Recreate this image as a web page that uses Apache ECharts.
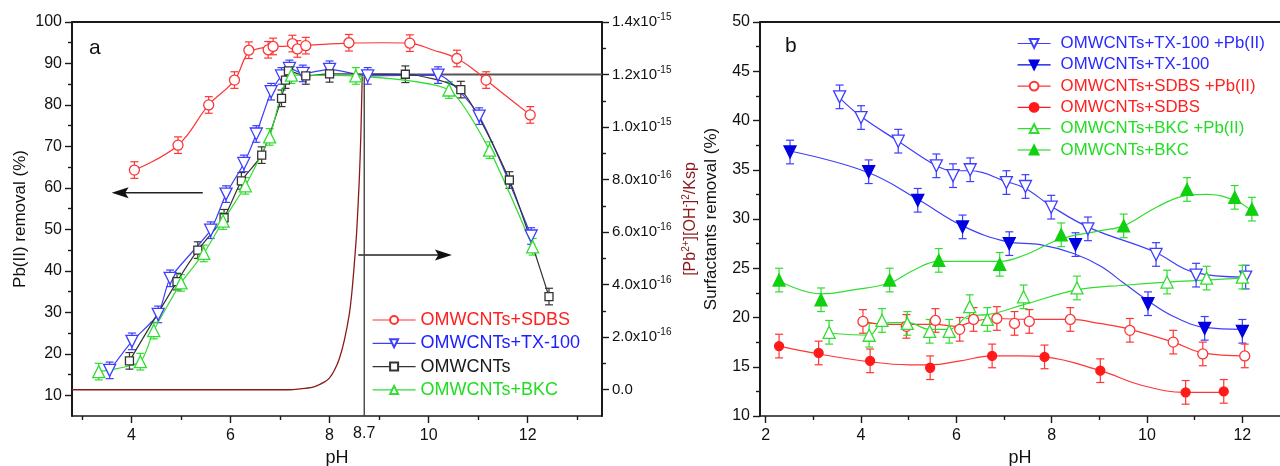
<!DOCTYPE html>
<html>
<head>
<meta charset="utf-8">
<script src="https://cdn.jsdelivr.net/npm/echarts@6/dist/echarts.min.js"></script>
<style>
html,body{margin:0;padding:0;background:#fff}
#chart{width:1280px;height:466px}
</style>
</head>
<body>
<div id="chart"></div>
<script>
// ---------- Panel a: Pb(II) removal (%) versus pH ----------
const sdbsA = [[4.06,64.3],[4.94,70.3],[5.56,80.0],[6.08,86.0],[6.37,93.2],[6.76,93.3],[6.86,94.1],[7.25,94.8],[7.35,93.5],[7.52,94.3],[8.39,95.0],[9.62,94.9],[10.57,91.2],[11.16,86.0],[12.05,77.6]];
const sdbsFitA = [[4.06,64.3],[4.94,70.3],[5.56,80.0],[6.08,86.0],[6.32,92.0],[6.45,93.2],[6.72,93.9],[7.13,94.2],[7.53,94.4],[8.41,94.9],[9.08,95.0],[9.6,94.9],[10.1,93.2],[10.57,91.2],[10.97,88.0],[11.16,86.0],[12.05,77.6]];
const txA = [[3.56,16.0],[4.01,23.0],[4.54,29.5],[4.78,38.2],[5.6,49.8],[5.91,58.5],[6.27,65.9],[6.52,73.0],[6.82,83.2],[7.03,87.0],[7.19,88.8],[7.46,87.6],[8.0,88.6],[8.77,87.0],[10.19,87.2],[11.02,77.3],[12.07,48.4]];
const bareA = [[3.96,18.3],[4.92,37.4],[5.34,45.0],[5.87,52.8],[6.22,61.7],[6.63,67.9],[7.03,81.6],[7.11,86.0],[7.17,88.2],[7.52,87.0],[8.0,87.5],[9.53,87.4],[10.65,83.7],[11.63,61.9],[12.43,33.8]];
const bkcA = [[3.34,15.7],[4.18,18.1],[4.45,25.6],[5.0,37.1],[5.46,44.2],[5.85,52.0],[6.3,60.5],[6.79,72.3],[7.23,87.2],[8.53,87.0],[10.41,83.6],[11.23,69.1],[12.1,45.8]];
const errA = 2.0;

// [Pb2+][OH-]^2/Ksp, in units of 1e-16
const kspRatio = [[2.8,0],[7.2,0],[7.5,0.05],[7.7,0.12],[7.9,0.3],[8.0,0.45],[8.1,0.75],[8.2,1.2],[8.3,1.9],[8.4,2.9],[8.45,3.7],[8.5,4.8],[8.55,6.1],[8.6,8.0],[8.63,9.6],[8.66,12.0]];
const refPH = 8.7;
const refRatio = 12;

const xTicksA = [4,6,8,10,12];
const xLabelsA = [4,6,8,8.7,10,12];
const xMinorA = [3,5,7,9,11,13];
const yTicksA = [10,20,30,40,50,60,70,80,90,100];
const yMinorA = [15,25,35,45,55,65,75,85,95];
const rTicks = [0,2,4,6,8,10,12,14];
const rLabels = ['0.0','2.0x10{sup|-16}','4.0x10{sup|-16}','6.0x10{sup|-16}','8.0x10{sup|-16}','1.0x10{sup|-15}','1.2x10{sup|-15}','1.4x10{sup|-15}'];
const rMinor = [1,3,5,7,9,11,13];

// arrows pointing each curve family to its axis
const arrowLeft = [[5.44,58.8],[3.6,58.8]];
const arrowRight = [[8.58,43.8],[10.47,43.8]];

// ---------- Panel b: surfactant removal (%) versus pH ----------
const txPbB = [[3.55,42.4],[4.0,40.3],[4.78,37.9],[5.58,35.4],[5.93,34.4],[6.29,35.0],[7.05,33.7],[7.45,33.3],[7.99,31.2],[8.76,29.0],[10.19,26.4],[11.03,24.3],[12.07,24.1]];
const txPbFit = [[3.55,42.3],[4.0,40.4],[4.78,37.9],[5.58,35.4],[5.93,34.9],[6.29,34.9],[7.05,33.8],[7.45,33.1],[7.99,31.3],[8.8,29.1],[10.14,26.7],[10.98,24.6],[12.03,24.1]];
const txB = [[2.51,36.8],[4.16,34.8],[5.19,31.9],[6.13,29.2],[7.11,27.5],[8.5,27.4],[10.02,21.4],[11.21,18.9],[12.0,18.6]];
const txFit = [[2.51,36.9],[4.16,34.7],[5.19,32.0],[6.13,29.3],[7.06,27.7],[7.76,27.4],[8.46,26.5],[9.03,25.2],[9.51,23.5],[10.02,21.7],[10.56,20.1],[11.21,19.0],[12.0,18.8]];
const sdbsPbB = [[4.04,19.6],[4.95,19.1],[5.56,19.7],[6.07,18.8],[6.36,19.8],[6.85,19.9],[7.22,19.4],[7.53,19.6],[8.39,19.8],[9.64,18.7],[10.55,17.5],[11.17,16.3],[12.05,16.1]];
const sdbsPbFit = [[4.04,19.6],[4.5,19.3],[5.0,19.3],[5.56,19.3],[6.0,19.1],[6.36,19.6],[6.85,19.9],[7.5,19.8],[8.39,19.8],[9.0,19.4],[9.64,18.8],[10.55,17.5],[11.17,16.4],[12.05,16.1]];
const sdbsB = [[2.28,17.1],[3.11,16.4],[4.19,15.6],[5.45,14.9],[6.75,16.1],[7.85,16.0],[9.02,14.6],[10.81,12.4],[11.61,12.5]];
const sdbsFitB = [[2.28,17.1],[3.11,16.3],[4.19,15.5],[5.0,15.2],[5.45,15.2],[6.08,15.6],[6.75,16.1],[7.3,16.1],[7.85,16.0],[9.02,14.6],[9.9,13.1],[10.81,12.4],[11.61,12.4]];
const bkcPbB = [[3.33,18.5],[4.17,18.2],[4.44,19.7],[4.97,19.4],[5.44,18.6],[5.85,18.6],[6.28,21.1],[6.65,19.8],[7.41,22.1],[8.53,23.0],[10.42,23.6],[11.25,24.0],[12.0,24.1]];
const bkcPbFit = [[3.33,18.4],[4.17,18.2],[4.44,19.4],[4.97,19.5],[5.44,18.8],[5.85,18.8],[6.28,20.2],[6.65,20.3],[7.41,21.3],[8.53,22.8],[9.6,23.3],[10.42,23.6],[11.25,23.8],[12.0,24.0]];
const bkcB = [[2.28,23.8],[3.16,21.8],[4.6,23.8],[5.63,25.8],[6.91,25.4],[8.2,28.4],[9.51,29.3],[10.84,33.0],[11.84,32.2],[12.2,31.0]];
const bkcFit = [[2.28,23.7],[3.16,22.4],[3.84,22.8],[4.6,23.5],[5.1,24.8],[5.63,25.7],[6.5,25.7],[6.91,25.7],[7.41,26.3],[8.2,28.0],[9.0,28.8],[9.51,29.3],[10.2,31.2],[10.84,32.4],[11.26,32.5],[11.84,31.9],[12.2,30.8]];
const errB = 1.2;

const xTicksB = [2,4,6,8,10,12];
const xMinorB = [3,5,7,9,11,13];

// ---------- styling ----------
const FONT = 'Liberation Sans, Arial, sans-serif';
const RED = '#ff3535', BLUE = '#3d3dff', DBLUE = '#0000e0', GREEN = '#30dd30', BLACK = '#333333', KSP = '#8b1a1a';
const AXIS = '#1a1a1a';

const chart = echarts.init(document.getElementById('chart'), null, {renderer: 'canvas'});

function errorBars(pts, err, color, xi, yi, cap) {
  return {
    type: 'custom', xAxisIndex: xi, yAxisIndex: yi, silent: true, z: 2,
    data: pts.map(p => [p[0], p[1] - err, p[1] + err]),
    encode: {x: 0, y: [1, 2]},
    renderItem(params, api) {
      const x = api.value(0);
      const lo = api.coord([x, api.value(1)]);
      const hi = api.coord([x, api.value(2)]);
      const h = cap / 2;
      const st = {stroke: color, lineWidth: 1.2, fill: null};
      return {type: 'group', children: [
        {type: 'line', shape: {x1: lo[0], y1: lo[1], x2: hi[0], y2: hi[1]}, style: st},
        {type: 'line', shape: {x1: lo[0] - h, y1: lo[1], x2: lo[0] + h, y2: lo[1]}, style: st},
        {type: 'line', shape: {x1: hi[0] - h, y1: hi[1], x2: hi[0] + h, y2: hi[1]}, style: st}
      ]};
    }
  };
}

function pointSeries(name, pts, o) {
  return {
    type: 'line', name, data: pts, xAxisIndex: o.xi, yAxisIndex: o.yi,
    smooth: o.smooth || 0, showSymbol: true, symbol: o.symbol, symbolSize: o.size,
    symbolRotate: o.rotate || 0,
    itemStyle: {color: o.fill, borderColor: o.color, borderWidth: 1.3},
    lineStyle: {color: o.color, width: o.line ? 1.2 : 0, opacity: o.line ? 1 : 0},
    z: 4, silent: true
  };
}

function curveSeries(pts, color, xi, yi, width, smooth) {
  return {
    type: 'line', data: pts, xAxisIndex: xi, yAxisIndex: yi, smooth: smooth,
    showSymbol: false, symbol: 'none',
    lineStyle: {color, width: width}, z: 3, silent: true
  };
}

const tickLabel = {fontFamily: FONT, fontSize: 16, color: '#111'};
const line = w => ({show: true, onZero: false, lineStyle: {color: AXIS, width: w}});
const noLine = {show: false, onZero: false};

const xAxis = [
  // panel a
  {gridIndex: 0, type: 'value', min: 2.8, max: 13.5, position: 'bottom',
   axisLine: line(1.6), axisTick: {show: true, length: 7, customValues: xTicksA, lineStyle: {color: AXIS, width: 1.4}},
   axisLabel: Object.assign({margin: 12, customValues: xLabelsA,
     formatter: v => v === 8.7 ? '{hi|8.7}' : String(v),
     rich: {hi: {fontFamily: FONT, fontSize: 16, color: '#111', lineHeight: 11}}}, tickLabel),
   splitLine: {show: false},
   name: 'pH', nameLocation: 'middle', nameGap: 29, nameTextStyle: {fontFamily: FONT, fontSize: 18, color: '#111'}},
  {gridIndex: 0, type: 'value', min: 2.8, max: 13.5, position: 'bottom',
   axisLine: noLine, axisLabel: {show: false}, splitLine: {show: false},
   axisTick: {show: true, length: 4, customValues: xMinorA, lineStyle: {color: AXIS, width: 1.4}}},
  {gridIndex: 0, type: 'value', min: 2.8, max: 13.5, position: 'top',
   axisLine: line(2), axisTick: {show: false}, axisLabel: {show: false}, splitLine: {show: false}},
  // panel b
  {gridIndex: 1, type: 'value', min: 1.88, max: 13, position: 'bottom',
   axisLine: line(1.6), axisTick: {show: true, length: 7, customValues: xTicksB, lineStyle: {color: AXIS, width: 1.4}},
   axisLabel: Object.assign({margin: 12, customValues: xTicksB}, tickLabel),
   splitLine: {show: false},
   name: 'pH', nameLocation: 'middle', nameGap: 29, nameTextStyle: {fontFamily: FONT, fontSize: 18, color: '#111', padding: [0, 10, 0, 0]}},
  {gridIndex: 1, type: 'value', min: 1.88, max: 13, position: 'bottom',
   axisLine: noLine, axisLabel: {show: false}, splitLine: {show: false},
   axisTick: {show: true, length: 4, customValues: xMinorB, lineStyle: {color: AXIS, width: 1.4}}},
  {gridIndex: 1, type: 'value', min: 1.88, max: 13, position: 'top',
   axisLine: line(2), axisTick: {show: false}, axisLabel: {show: false}, splitLine: {show: false}}
];

const yAxis = [
  // panel a, left: Pb(II) removal
  {gridIndex: 0, type: 'value', min: 5, max: 100, position: 'left',
   axisLine: line(2),
   axisTick: {show: true, length: 7, customValues: yTicksA, lineStyle: {color: AXIS, width: 1.4}},
   axisLabel: Object.assign({margin: 10, customValues: yTicksA}, tickLabel),
   splitLine: {show: false},
   name: 'Pb(II) removal (%)', nameLocation: 'middle', nameGap: 43,
   nameTextStyle: {fontFamily: FONT, fontSize: 17, color: '#111'}},
  {gridIndex: 0, type: 'value', min: 5, max: 100, position: 'left',
   axisLine: noLine, axisLabel: {show: false}, splitLine: {show: false},
   axisTick: {show: true, length: 4, customValues: yMinorA, lineStyle: {color: AXIS, width: 1.4}}},
  // panel a, right: [Pb2+][OH-]^2/Ksp
  {gridIndex: 0, type: 'value', min: -1, max: 14, position: 'right',
   axisLine: line(2),
   axisTick: {show: true, length: 7, customValues: rTicks, lineStyle: {color: AXIS, width: 1.4}},
   axisLabel: {margin: 10, customValues: rTicks, fontFamily: FONT, fontSize: 15, color: '#111',
     formatter: v => rLabels[rTicks.indexOf(v)],
     rich: {sup: {fontFamily: FONT, fontSize: 10, color: '#111', padding: [0, 0, 9, 0]}}},
   splitLine: {show: false},
   name: '[Pb{sup|2+}][OH{sup|-}]{sup|2}/Ksp', nameLocation: 'middle', nameGap: 79, nameRotate: 90,
   nameTextStyle: {fontFamily: FONT, fontSize: 16, color: KSP,
     rich: {sup: {fontFamily: FONT, fontSize: 10, color: KSP, padding: [0, 0, 9, 0]}}}},
  {gridIndex: 0, type: 'value', min: -1, max: 14, position: 'right',
   axisLine: noLine, axisLabel: {show: false}, splitLine: {show: false},
   axisTick: {show: true, length: 4, customValues: rMinor, lineStyle: {color: AXIS, width: 1.4}}},
  // panel b, left: surfactant removal
  {gridIndex: 1, type: 'value', min: 10, max: 50, interval: 5, position: 'left',
   axisLine: line(2),
   axisTick: {show: true, length: 7, lineStyle: {color: AXIS, width: 1.4}},
   minorTick: {show: true, splitNumber: 2, length: 4, lineStyle: {color: AXIS, width: 1.4}},
   axisLabel: Object.assign({margin: 10}, tickLabel),
   splitLine: {show: false}, minorSplitLine: {show: false},
   name: 'Surfactants removal (%)', nameLocation: 'middle', nameGap: 40,
   nameTextStyle: {fontFamily: FONT, fontSize: 17, color: '#111'}}
];

const series = [
  // reference lines at pH 8.7 and ratio 1.2e-15
  {type: 'line', data: [[refPH, -1], [refPH, refRatio]], xAxisIndex: 0, yAxisIndex: 2, showSymbol: false, symbol: 'none',
   lineStyle: {color: '#444', width: 1.4}, z: 1, silent: true},
  {type: 'line', data: [[refPH, refRatio], [13.5, refRatio]], xAxisIndex: 0, yAxisIndex: 2, showSymbol: false, symbol: 'none',
   lineStyle: {color: '#555', width: 2}, z: 1, silent: true},
  curveSeries(kspRatio, KSP, 0, 2, 1.3, 0.25),

  // panel a error bars
  errorBars(sdbsA, errA, RED, 0, 0, 8),
  errorBars(txA, errA, BLUE, 0, 0, 8),
  errorBars(bareA, errA, BLACK, 0, 0, 8),
  errorBars(bkcA, errA, GREEN, 0, 0, 8),
  // panel a curves and points
  curveSeries(sdbsFitA, RED, 0, 0, 1.2, 0.4),
  pointSeries('OMWCNTs+SDBS', sdbsA, {xi: 0, yi: 0, symbol: 'circle', size: 10, color: RED, fill: '#fff', line: false}),
  pointSeries('OMWCNTs+TX-100', txA, {xi: 0, yi: 0, symbol: 'triangle', rotate: 180, size: 12, color: BLUE, fill: '#fff', line: true, smooth: 0.2}),
  pointSeries('OMWCNTs', bareA, {xi: 0, yi: 0, symbol: 'rect', size: 8, color: BLACK, fill: '#fff', line: true, smooth: 0.2}),
  pointSeries('OMWCNTs+BKC', bkcA, {xi: 0, yi: 0, symbol: 'triangle', size: 12, color: GREEN, fill: '#fff', line: true, smooth: 0.2}),

  // panel b error bars
  errorBars(txPbB, errB, BLUE, 3, 4, 8),
  errorBars(txB, errB, BLUE, 3, 4, 8),
  errorBars(sdbsPbB, errB, RED, 3, 4, 8),
  errorBars(sdbsB, errB, RED, 3, 4, 8),
  errorBars(bkcPbB, errB, GREEN, 3, 4, 8),
  errorBars(bkcB, errB, GREEN, 3, 4, 8),
  // panel b fitted curves
  curveSeries(txPbFit, BLUE, 3, 4, 1.2, 0.4),
  curveSeries(txFit, BLUE, 3, 4, 1.2, 0.4),
  curveSeries(sdbsPbFit, RED, 3, 4, 1.2, 0.4),
  curveSeries(sdbsFitB, RED, 3, 4, 1.2, 0.4),
  curveSeries(bkcPbFit, GREEN, 3, 4, 1.2, 0.4),
  curveSeries(bkcFit, GREEN, 3, 4, 1.2, 0.4),
  // panel b points
  pointSeries('OMWCNTs+TX-100 +Pb(II)', txPbB, {xi: 3, yi: 4, symbol: 'triangle', rotate: 180, size: 12, color: BLUE, fill: '#fff'}),
  pointSeries('OMWCNTs+TX-100 ', txB, {xi: 3, yi: 4, symbol: 'triangle', rotate: 180, size: 12, color: DBLUE, fill: DBLUE}),
  pointSeries('OMWCNTs+SDBS +Pb(II)', sdbsPbB, {xi: 3, yi: 4, symbol: 'circle', size: 10, color: RED, fill: '#fff'}),
  pointSeries('OMWCNTs+SDBS ', sdbsB, {xi: 3, yi: 4, symbol: 'circle', size: 9, color: '#ff1a1a', fill: '#ff1a1a'}),
  pointSeries('OMWCNTs+BKC +Pb(II)', bkcPbB, {xi: 3, yi: 4, symbol: 'triangle', size: 12, color: GREEN, fill: '#fff'}),
  pointSeries('OMWCNTs+BKC ', bkcB, {xi: 3, yi: 4, symbol: 'triangle', size: 12, color: '#10d010', fill: '#10d010'})
];

const legendA = {
  orient: 'vertical', left: 372, top: 311, padding: 0, itemWidth: 43, itemHeight: 10, itemGap: 5.3,
  lineStyle: {width: 1.2, opacity: 1}, selectedMode: false,
  textStyle: {fontFamily: FONT, fontSize: 18, lineHeight: 18},
  data: [
    {name: 'OMWCNTs+SDBS', textStyle: {color: '#ff2020'}},
    {name: 'OMWCNTs+TX-100', textStyle: {color: '#2020ff'}},
    {name: 'OMWCNTs', textStyle: {color: '#1a1a1a'}},
    {name: 'OMWCNTs+BKC', textStyle: {color: '#22dd22'}}
  ]
};
const legendB = {
  orient: 'vertical', left: 1017, top: 35, padding: 0, itemWidth: 33, itemHeight: 11, itemGap: 4.3,
  lineStyle: {width: 1.2, opacity: 1}, selectedMode: false,
  textStyle: {fontFamily: FONT, fontSize: 16.8, lineHeight: 16.4, padding: [0, 0, 0, 5]},
  formatter: n => n.trim(),
  data: [
    {name: 'OMWCNTs+TX-100 +Pb(II)', textStyle: {color: '#2a2aff'}},
    {name: 'OMWCNTs+TX-100 ', textStyle: {color: '#2a2aff'}},
    {name: 'OMWCNTs+SDBS +Pb(II)', textStyle: {color: '#ff2020'}},
    {name: 'OMWCNTs+SDBS ', textStyle: {color: '#ff2020'}},
    {name: 'OMWCNTs+BKC +Pb(II)', textStyle: {color: '#22dd22'}},
    {name: 'OMWCNTs+BKC ', textStyle: {color: '#22dd22'}}
  ]
};

chart.setOption({
  animation: false,
  backgroundColor: '#fff',
  grid: [
    {left: 72, top: 22, width: 530, height: 394, outerBoundsMode: 'none', containLabel: false},
    {left: 760, top: 22, width: 530, height: 394, outerBoundsMode: 'none', containLabel: false}
  ],
  xAxis, yAxis, series,
  legend: [legendA, legendB]
});

// panel letters and the two direction arrows
function arrow(seg) {
  const p0 = chart.convertToPixel({xAxisIndex: 0, yAxisIndex: 0}, seg[0]);
  const p1 = chart.convertToPixel({xAxisIndex: 0, yAxisIndex: 0}, seg[1]);
  const d = Math.sign(p1[0] - p0[0]);
  const L = 17, W = 5.5;
  return [
    {type: 'line', shape: {x1: p0[0], y1: p0[1], x2: p1[0] - d * L * 0.7, y2: p1[1]}, style: {stroke: '#222', lineWidth: 1.5}},
    {type: 'polygon', shape: {points: [[p1[0], p1[1]], [p1[0] - d * L, p1[1] - W], [p1[0] - d * L * 0.8, p1[1]], [p1[0] - d * L, p1[1] + W]]},
     style: {fill: '#111'}}
  ];
}

chart.setOption({
  graphic: [
    {type: 'text', left: 89, top: 38, style: {text: 'a', fontFamily: FONT, fontSize: 21, fill: '#111'}},
    {type: 'text', left: 785, top: 36, style: {text: 'b', fontFamily: FONT, fontSize: 21, fill: '#111'}},
    ...arrow(arrowLeft),
    ...arrow(arrowRight)
  ]
});
</script>
</body>
</html>
